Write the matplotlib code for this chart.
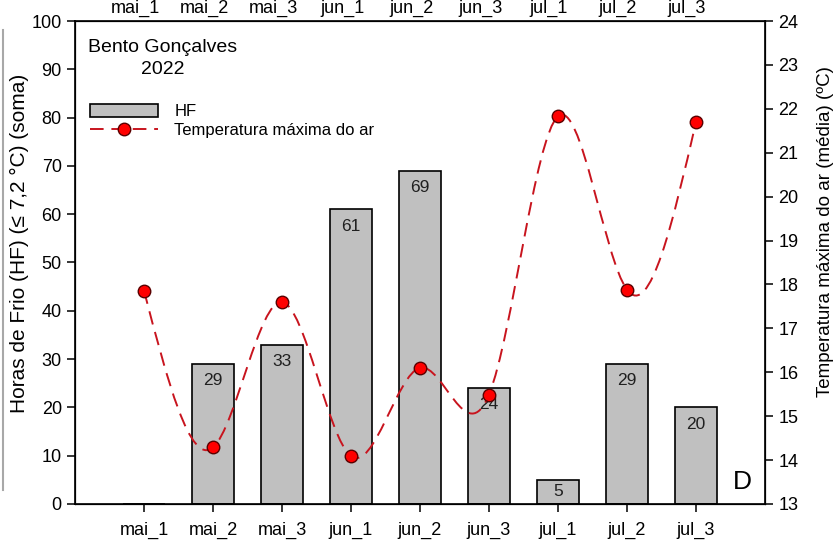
import numpy as np
import matplotlib
matplotlib.use("Agg")
import matplotlib.pyplot as plt
from matplotlib.path import Path
from matplotlib.patches import PathPatch, Patch
from matplotlib.lines import Line2D

plt.rcParams['font.family'] = ['Liberation Sans', 'DejaVu Sans']

# dados
periodos = ['mai_1', 'mai_2', 'mai_3', 'jun_1', 'jun_2', 'jun_3', 'jul_1', 'jul_2', 'jul_3']
hf = [0, 29, 33, 61, 69, 24, 5, 29, 20]
tmax = [17.86, 14.29, 17.6, 14.09, 16.1, 15.49, 21.83, 17.88, 21.7]
hf_ticks = list(range(0, 101, 10))
t_ticks = list(range(13, 25))

vermelho = '#c8141e'


def spline_path(x, y):
    # spline cubica natural desenhada como curvas de Bezier
    x = np.asarray(x, float)
    y = np.asarray(y, float)
    n = len(x)
    h = np.diff(x)
    A = np.zeros((n, n))
    b = np.zeros(n)
    A[0, 0] = A[-1, -1] = 1
    for i in range(1, n - 1):
        A[i, i - 1] = h[i - 1]
        A[i, i] = 2 * (h[i - 1] + h[i])
        A[i, i + 1] = h[i]
        b[i] = 6 * ((y[i + 1] - y[i]) / h[i] - (y[i] - y[i - 1]) / h[i - 1])
    M = np.linalg.solve(A, b)
    verts = [(x[0], y[0])]
    codes = [Path.MOVETO]
    for i in range(n - 1):
        d = (y[i + 1] - y[i]) / h[i]
        s0 = d - h[i] * (2 * M[i] + M[i + 1]) / 6
        s1 = d + h[i] * (M[i] + 2 * M[i + 1]) / 6
        verts += [(x[i] + h[i] / 3, y[i] + s0 * h[i] / 3),
                  (x[i + 1] - h[i] / 3, y[i + 1] - s1 * h[i] / 3),
                  (x[i + 1], y[i + 1])]
        codes += [Path.CURVE4] * 3
    return Path(verts, codes)


fig = plt.figure(figsize=(8.4, 5.4), dpi=100)
ax = fig.add_axes([0.0893, 0.0667, 0.8214, 0.8944])
x = np.arange(len(periodos))

ax.bar(x, hf, width=0.6, color='#c0c0c0', edgecolor='black', linewidth=1.2, zorder=2)
for xi, v in zip(x, hf):
    if v == 0:
        continue
    ypos = v - 3.5 if v >= 10 else v / 2
    ax.text(xi, ypos, str(v), ha='center', va='center', fontsize=12.5,
            color='#202020', zorder=3)

ax.set_xlim(-1.0, 9.0)
ax.set_ylim(0, 100)
ax.set_yticks(hf_ticks)
ax.set_xticks(x)
ax.set_xticklabels(periodos)
ax.tick_params(axis='both', direction='out', length=6, width=1.1, labelsize=13)
ax.tick_params(axis='x', pad=7)
ax.set_ylabel('Horas de Frio (HF) (≤ 7,2 °C) (soma)', fontsize=15)
ax.yaxis.set_label_coords(-0.066, 0.54)
for sp in ax.spines.values():
    sp.set_linewidth(1.2)

# eixo da temperatura
ax2 = ax.twinx()
ax2.set_ylim(13, 24)
ax2.set_yticks(t_ticks)
ax2.tick_params(axis='y', direction='out', length=6, width=1.1, labelsize=13)
ax2.set_ylabel('Temperatura máxima do ar (média) (ºC)', fontsize=13.5)
ax2.yaxis.set_label_coords(1.076, 0.565)
patch = PathPatch(spline_path(x, tmax), facecolor='none', edgecolor=vermelho,
                  linewidth=1.4, linestyle=(0, (7, 4)), zorder=3)
ax2.add_patch(patch)
ax2.plot(x, tmax, 'o', markersize=9, markerfacecolor='#ff0000',
         markeredgecolor='#5a0000', markeredgewidth=1.0, zorder=4)

# rotulos de cima
ax3 = ax.twiny()
ax3.set_xlim(-1.0 + 0.13, 9.0 + 0.13)
ax3.set_xticks(x)
ax3.set_xticklabels(periodos)
ax3.tick_params(axis='x', length=0, pad=3, labelsize=13)

ax.text(0.1275, 0.946, 'Bento Gonçalves', transform=ax.transAxes,
        ha='center', va='center', fontsize=14)
ax.text(0.1275, 0.899, '2022', transform=ax.transAxes,
        ha='center', va='center', fontsize=14)
ax.text(0.967, 0.045, 'D', transform=ax.transAxes, ha='center', va='center', fontsize=19)

handles = [Patch(facecolor='#c0c0c0', edgecolor='black', linewidth=1.2),
           Line2D([], [], color=vermelho, linestyle=(0, (7, 4)), linewidth=1.4,
                  marker='o', markersize=9, markerfacecolor='#ff0000',
                  markeredgecolor='#5a0000')]
ax.legend(handles, ['HF', 'Temperatura máxima do ar'], loc='upper left',
          bbox_to_anchor=(0.0, 0.86), frameon=False, fontsize=12,
          handlelength=4.1, handleheight=0.9, handletextpad=0.95, labelspacing=0.2)

# linha cinza na borda esquerda
fig.add_artist(Line2D([0.003, 0.003], [1 - 30 / 540, 1 - 490 / 540],
                      color='#a8a8a8', linewidth=1.5))

fig.savefig('out.png', dpi=100)
